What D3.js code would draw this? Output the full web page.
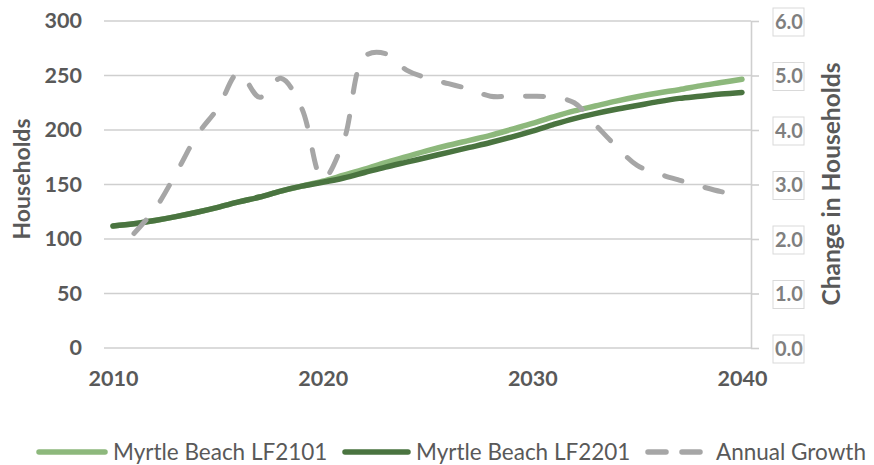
<!DOCTYPE html>
<html>
<head>
<meta charset="utf-8">
<script src="https://cdn.jsdelivr.net/npm/d3@7"></script>
<style>
  html, body { margin: 0; padding: 0; background: #fff; }
  svg { display: block; font-family: Lato, "Open Sans", sans-serif; }
</style>
</head>
<body>
<svg id="chart" width="874" height="465"></svg>
<script>
// Years on the x axis
const years = d3.range(2010, 2041);

// Household projections (left axis)
const lf2101 = [112, 114, 117, 120.5, 124.5, 129, 134, 138.5, 144, 148.5,
                153, 158.5, 164, 170, 175.5, 181, 186, 190.5, 195, 200.5,
                206, 212, 217.5, 222, 226.5, 230.5, 234, 237, 240.5, 243.5, 246.5];
const lf2201 = [112, 114, 117, 120.5, 124.5, 129, 134, 138.5, 144, 148.5,
                152, 156, 161, 166, 170.5, 175, 179.5, 184, 188.5, 193.5,
                199, 205, 210.5, 215, 219, 222.5, 226, 229, 231, 233, 234.5];

// Annual growth in households (right axis), first value for 2011
const growthYears = d3.range(2011, 2041);
const growth = [2.1, 2.55, 3.2, 3.9, 4.4, 5.05, 4.6, 4.95, 4.4, 3.1,
                3.8, 5.35, 5.4, 5.1, 4.95, 4.85, 4.75, 4.62, 4.62, 4.62,
                4.6, 4.5, 4.1, 3.7, 3.35, 3.2, 3.08, 2.97, 2.87, 2.8];

const leftTicks = [0, 50, 100, 150, 200, 250, 300];
const rightTicks = [0, 1, 2, 3, 4, 5, 6];
const xTicks = [2010, 2020, 2030, 2040];

const seriesNames = ["Myrtle Beach LF2101", "Myrtle Beach LF2201", "Annual Growth"];
const colors = { light: "#8db87c", dark: "#4a7440", gray: "#a6a6a6" };

const svg = d3.select("#chart");
const plot = { left: 104, right: 751, top: 21, bottom: 348 };

const x = d3.scaleLinear().domain([2010, 2040]).range([113, 742]);
const yL = d3.scaleLinear().domain([0, 300]).range([plot.bottom, plot.top]);
const yR = d3.scaleLinear().domain([0, 6]).range([plot.bottom, plot.top]);

// Horizontal gridlines
svg.append("g")
  .selectAll("line")
  .data(leftTicks)
  .join("line")
  .attr("x1", plot.left).attr("x2", plot.right)
  .attr("y1", d => yL(d)).attr("y2", d => yL(d))
  .attr("stroke", "#cfcfcf").attr("stroke-width", 1.6);

// Left axis labels
const yAxisL = d3.axisLeft(yL).tickValues(leftTicks).tickSize(0).tickPadding(0);
const gL = svg.append("g").attr("transform", "translate(82,0)").call(yAxisL);
gL.select(".domain").remove();
gL.selectAll("text")
  .attr("fill", "#595959").attr("font-size", 21.5).attr("font-weight", 700)
  .attr("font-family", "Lato, sans-serif");

// Right axis: line, outward ticks and boxed labels
const yAxisR = d3.axisRight(yR).tickValues(rightTicks).tickSize(8).tickSizeOuter(0)
  .tickFormat(d3.format(".1f"));
const gR = svg.append("g").attr("transform", `translate(${plot.right},0)`).call(yAxisR);
gR.select(".domain").attr("stroke", "#cfcfcf").attr("stroke-width", 1.6);
gR.selectAll(".tick line").attr("stroke", "#cfcfcf").attr("stroke-width", 1.6);
gR.selectAll(".tick text").remove();
gR.selectAll(".tick").each(function (d) {
  const t = d3.select(this);
  t.append("rect")
    .attr("x", 22).attr("y", -13.5).attr("width", 31).attr("height", 28)
    .attr("fill", "#fff").attr("stroke", "#d9d9d9").attr("stroke-width", 1);
  t.append("text")
    .attr("x", 38).attr("dy", "0.36em").attr("text-anchor", "middle")
    .attr("fill", "#7f7f7f").attr("font-size", 20).attr("font-weight", 700)
    .attr("font-family", "Lato, sans-serif")
    .text(d3.format(".1f")(d));
});

// X axis labels
const xAxis = d3.axisBottom(x).tickValues(xTicks).tickSize(0).tickPadding(0).tickFormat(d3.format("d"));
const gX = svg.append("g").attr("transform", "translate(0,371)").call(xAxis);
gX.select(".domain").remove();
gX.selectAll("text")
  .attr("fill", "#595959").attr("font-size", 21.5).attr("font-weight", 700)
  .attr("font-family", "Lato, sans-serif");

// Axis titles
svg.append("text")
  .attr("transform", "translate(30,179) rotate(-90)")
  .attr("text-anchor", "middle")
  .attr("fill", "#595959").attr("font-size", 23).attr("font-weight", 700)
  .text("Households");
svg.append("text")
  .attr("transform", "translate(840,184) rotate(-90)")
  .attr("text-anchor", "middle")
  .attr("fill", "#595959").attr("font-size", 24.5).attr("font-weight", 700)
  .text("Change in Households");

// Series lines
const curve = d3.curveCatmullRom.alpha(0.5);
const lineL = d3.line().x((d, i) => x(years[i])).y(d => yL(d)).curve(curve);
const lineR = d3.line().x((d, i) => x(growthYears[i])).y(d => yR(d)).curve(curve);

svg.append("path").datum(lf2101)
  .attr("d", lineL).attr("fill", "none")
  .attr("stroke", colors.light).attr("stroke-width", 5.5).attr("stroke-linecap", "round");
svg.append("path").datum(lf2201)
  .attr("d", lineL).attr("fill", "none")
  .attr("stroke", colors.dark).attr("stroke-width", 5.5).attr("stroke-linecap", "round");
svg.append("path").datum(growth)
  .attr("d", lineR).attr("fill", "none")
  .attr("stroke", colors.gray).attr("stroke-width", 5)
  .attr("stroke-linecap", "round").attr("stroke-dasharray", "18 24");

// Legend
const legend = svg.append("g").attr("transform", "translate(0,452)");
const legendItems = [
  { name: seriesNames[0], color: colors.light, dash: null, x1: 39, x2: 105, tx: 113 },
  { name: seriesNames[1], color: colors.dark, dash: null, x1: 345, x2: 408, tx: 416 },
  { name: seriesNames[2], color: colors.gray, dash: "18 16", x1: 648, x2: 700, tx: 716 }
];
legendItems.forEach(it => {
  legend.append("line")
    .attr("x1", it.x1).attr("x2", it.x2).attr("y1", 0).attr("y2", 0)
    .attr("stroke", it.color).attr("stroke-width", 5.5).attr("stroke-linecap", "round")
    .attr("stroke-dasharray", it.dash);
  legend.append("text")
    .attr("x", it.tx).attr("dy", "0.35em")
    .attr("fill", "#595959").attr("font-size", 22.5)
    .text(it.name);
});
</script>
</body>
</html>
